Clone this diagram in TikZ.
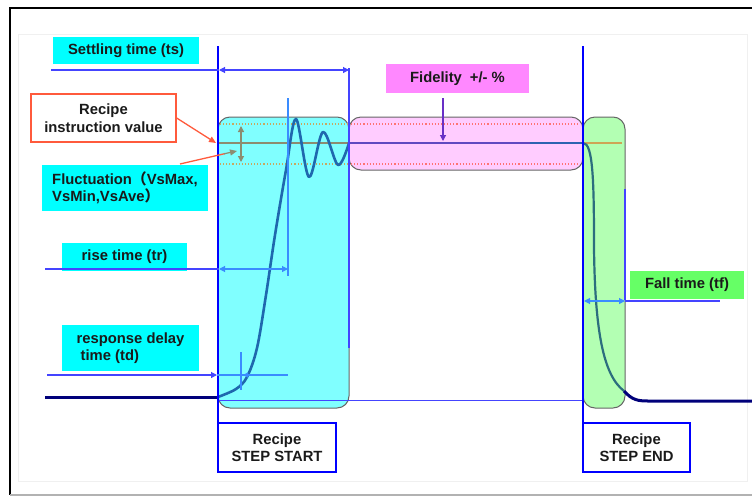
\documentclass[tikz,border=0pt]{standalone}
\usepackage{fontspec}
\setmainfont{Liberation Sans}
\newfontfamily\cjk{Noto Sans CJK SC}
\usetikzlibrary{arrows.meta}
\definecolor{cyanlbl}{HTML}{00FFFF}
\definecolor{cyanbox}{HTML}{80FFFF}
\definecolor{pinkbox}{HTML}{FFCCFF}
\definecolor{pinklbl}{HTML}{FF88FF}
\definecolor{greenbox}{HTML}{B3FFB3}
\definecolor{greenlbl}{HTML}{66FF66}
\definecolor{pureblue}{HTML}{0000FF}
\definecolor{thinblue}{HTML}{4444FF}
\definecolor{lightblue}{HTML}{3A8CFF}
\definecolor{curveblue}{HTML}{1F68AE}
\definecolor{navy}{HTML}{00007A}
\definecolor{orangered}{HTML}{FF5A3C}
\definecolor{tan}{HTML}{C8A860}
\definecolor{olivegray}{HTML}{8C8C70}
\definecolor{txt}{HTML}{1A1A1A}
\definecolor{teal}{HTML}{2C6E7E}
\definecolor{purpleline}{HTML}{6048C0}
\begin{document}
\begin{tikzpicture}[x=1pt,y=-1pt,
  font=\fontsize{14.8}{17.5}\selectfont\bfseries,
  lbl/.style={inner sep=0pt, text=txt, align=center},
  zone/.style={draw=gray!80!black, line width=1pt, rounded corners=12pt},
  stepline/.style={pureblue, line width=2.6pt},
  thinline/.style={thinblue, line width=1.1pt},
  tipline/.style={lightblue, line width=1.1pt},
  dotline/.style={dotted, line width=1.1pt},
  tip/.style={-{Triangle[length=6pt,width=6pt]}},
  dtip/.style={{Triangle[length=6pt,width=6pt]}-{Triangle[length=6pt,width=6pt]}},
  curve/.style={curveblue, line width=2.6pt, line cap=round, line join=round}]
\useasboundingbox (0,0) rectangle (752,496);
% frame
\draw[black, line width=1.6pt] (752,8) -- (10,8) -- (10,495);
\draw[gray!60, line width=1.2pt] (10,495) -- (752,495);
\draw[gray!12, line width=0.8pt] (18,34) rectangle (747,481);

% zones
\draw[zone, fill=cyanbox] (218,117) rectangle (349,408);
\draw[zone, fill=pinkbox] (349,117) rectangle (583,170);
\draw[zone, fill=greenbox] (583,117) rectangle (625,408);

% dotted limits
\draw[dotline, tan] (220,124) -- (348,124);
\draw[dotline, tan] (220,164) -- (348,164);
\draw[dotline, red!55] (351,124) -- (580,124);
\draw[dotline, red!55] (351,164) -- (580,164);

% set value lines
\draw[olivegray, line width=1.3pt] (218,143) -- (349,143);
\draw[tan!90!orange, line width=2pt] (584,143) -- (622,143);

% baseline
\draw[navy, line width=3pt] (45,397) -- (218,397);
\draw[thinline, line width=1pt] (218,400) -- (583,400);

% response curve
\draw[curve] plot[smooth, tension=0.55] coordinates {(218,397) (236,389) (247,377) (257,348) (266,295) (275,235) (286,170) (296,119) (309,177) (323,132) (338,165) (349,143)};
\draw[purpleline, line width=2.2pt] (349,143) -- (530,143);
\draw[curveblue!80!purpleline, line width=2.2pt] (530,143) -- (583,143);
\draw[teal, line width=2.2pt] (583,143) .. controls (593,143) and (594,180) .. (594,248) .. controls (595,330) and (603,375) .. (624,391);
\draw[navy, line width=3pt] (624,391) .. controls (632,400) and (638,401) .. (648,401) -- (752,401);

% step lines
\coordinate (s0) at (218,46);
\coordinate (s1) at (218,423);
\coordinate (e0) at (583,46);
\coordinate (e1) at (583,423);
\draw[stepline] (s0) -- (s1);
\draw[stepline] (e0) -- (e1);
\draw[thinline] (349,68) -- (349,348);
\draw[thinline] (625,189) -- (625,300);

% labels
\node[lbl, fill=cyanlbl, minimum width=146pt, minimum height=27pt] (ts) at (126,50.5) {Settling time (ts)};
\node[lbl, fill=white, draw=orangered, line width=1.3pt, minimum width=145pt, minimum height=48pt] (riv) at (103.5,118) {Recipe\\instruction value};
\node[lbl, fill=cyanlbl, minimum width=166pt, minimum height=46pt, align=left] (fl) at (125,188) {Fluctuation{\cjk （}VsMax,\\VsMin,VsAve{\cjk ）}};
\node[lbl, fill=cyanlbl, minimum width=125pt, minimum height=28pt] (tr) at (124.5,256.5) {rise time (tr)};
\node[lbl, fill=cyanlbl, minimum width=137pt, minimum height=46pt, align=left] (td) at (130.5,348) {response delay\\\hspace{4pt}time (td)};
\node[lbl, fill=pinklbl, minimum width=143pt, minimum height=29pt] (fid) at (457.5,78.5) {Fidelity\hspace{8pt}+/- \%};
\node[lbl, fill=greenlbl, minimum width=114pt, minimum height=28pt] (tf) at (687,285) {Fall time (tf)};
\node[lbl, fill=white, draw=pureblue, line width=2pt, minimum width=118pt, minimum height=49pt] (start) at (277,447.5) {Recipe\\STEP START};
\node[lbl, fill=white, draw=pureblue, line width=2pt, minimum width=107pt, minimum height=49pt] (end) at (636.5,447.5) {Recipe\\STEP END};

% settling time
\coordinate (tsL) at (51,70);
\coordinate (tsA) at (219,70);
\coordinate (tsB) at (349,70);
\draw[thinline] (tsL) -- (tsA);
\draw[thinline, dtip] (tsA) -- (tsB);

% rise time
\coordinate (trL) at (45,269);
\coordinate (trA) at (219,269);
\coordinate (trB) at (288,269);
\draw[thinline] (trL) -- (trA);
\draw[tipline, dtip] (trA) -- (trB);
\draw[tipline] (288,98) -- (288,276);

% response delay
\coordinate (tdL) at (47,375);
\coordinate (tdA) at (217,375);
\coordinate (tdR) at (288,375);
\draw[thinline, tip] (tdL) -- (tdA);
\draw[tipline] (tdA) -- (tdR);
\draw[tipline] (241,352) -- (241,390);
\draw[tipline, {Triangle[length=5pt,width=5pt]}-] (243,375) -- (250,375);

% fall time
\coordinate (tfA) at (584,301);
\coordinate (tfB) at (625,301);
\coordinate (tfR) at (720,301);
\draw[thinline] (tfB) -- (tfR);
\draw[tipline, dtip] (tfA) -- (tfB);

% fidelity
\coordinate (fidA) at (443,98);
\coordinate (fidB) at (443,141);
\draw[thinblue!70!purple, line width=1.1pt, tip] (fidA) -- (fidB);

% recipe instruction value arrow
\coordinate (sv) at (216,143);
\draw[orangered, line width=1.3pt, -{Triangle[length=7pt,width=6pt]}] (riv.east) -- (sv);

% fluctuation
\coordinate (flA) at (180,164);
\coordinate (flB) at (237,151);
\draw[orangered, line width=1.3pt] (flA) -- (225,153.6);
\draw[olivegray, line width=1.2pt, -{Triangle[length=7pt,width=6pt]}] (224,153.8) -- (flB);
\draw[olivegray, line width=1.2pt, dtip] (241,126) -- (241,162);
\end{tikzpicture}
\end{document}
